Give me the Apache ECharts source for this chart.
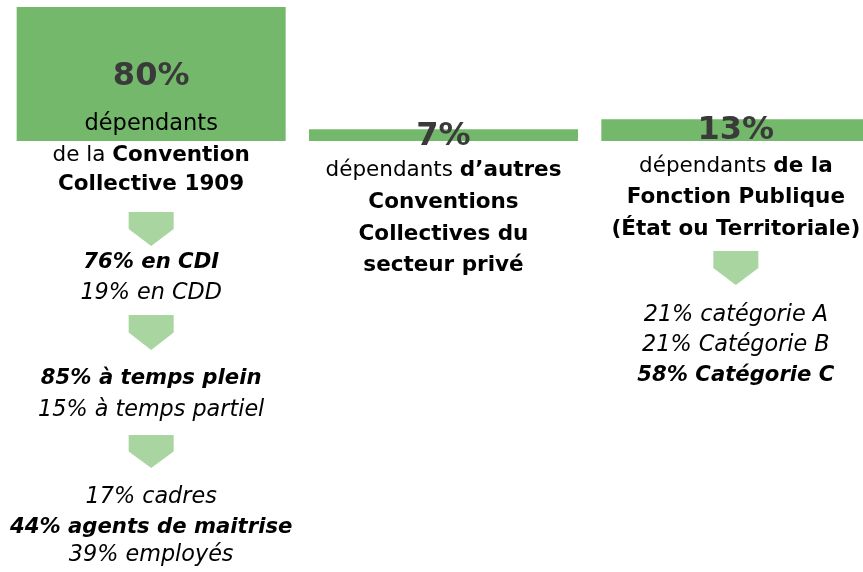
<!DOCTYPE html>
<html>
<head>
<meta charset="utf-8">
<script src="https://cdn.jsdelivr.net/npm/echarts@6/dist/echarts.min.js"></script>
<style>
html,body{margin:0;padding:0;background:#fff;}
#main{width:863px;height:572px;}
</style>
</head>
<body>
<div id="main"></div>
<script>
// ---- data ----
const categories = ['Convention Collective 1909', 'Autres Conventions Collectives du secteur privé', 'Fonction Publique'];
const shares = [80, 7, 13];
const shareLabels = ['80%', '7%', '13%'];

// text blocks under each bar (rich text markup)
const col1Head = ['{r|de la }{b|Convention}', '{b|Collective 1909}'];
const col1Contract = ['{bi|76% en CDI}', '{i|19% en CDD}'];
const col1Time = ['{bi|85% à temps plein}', '{i|15% à temps partiel}'];
const col1Status = ['{i|17% cadres}', '{bi|44% agents de maitrise}', '{i|39% employés}'];
const col2Head = ['{r|dépendants }{b|d’autres}', '{b|Conventions}', '{b|Collectives du}', '{b|secteur privé}'];
const col3Head = ['{r|dépendants }{b|de la}', '{b|Fonction Publique}', '{b|(État ou Territoriale)}'];
const col3Cat = ['{i|21% catégorie A}', '{i|21% Catégorie B}', '{bi|58% Catégorie C}'];

const FONT = '"DejaVu Sans", sans-serif';
const GREEN = '#74b96b';
const LIGHT = '#a8d5a0';

const rich = {
  r:  {fontFamily: FONT, fontSize: 21.5, color: '#2a2a2a', fontWeight: 'normal'},
  b:  {fontFamily: FONT, fontSize: 21.5, color: '#111111', fontWeight: 'bold'},
  i:  {fontFamily: FONT, fontSize: 22.3, color: '#2a2a2a', fontStyle: 'italic'},
  bi: {fontFamily: FONT, fontSize: 21.2, color: '#111111', fontStyle: 'italic', fontWeight: 'bold'},
  big:{fontFamily: FONT, fontSize: 22.5, color: '#222222'}
};

const labelPos = [['50%', 70], ['50%', 7], ['50%', 11]];

const chart = echarts.init(document.getElementById('main'));
chart.setOption({
  animation: false,
  backgroundColor: '#ffffff',
  grid: {left: 5, width: 877, top: 7, bottom: 431, containLabel: false, outerBoundsMode: 'none'},
  xAxis: {type: 'category', data: categories, show: false},
  yAxis: {type: 'value', min: 0, max: 80, show: false},
  series: [{
    type: 'bar',
    barWidth: 269,
    itemStyle: {color: GREEN},
    data: shares.map((v, i) => ({
      value: v,
      label: {
        show: true,
        position: labelPos[i],
        align: 'center',
        verticalAlign: 'middle',
        formatter: shareLabels[i],
        fontFamily: FONT,
        fontSize: 32,
        fontWeight: 'bold',
        color: '#3a3a3a'
      }
    }))
  }]
});

const cx = categories.map(c => chart.convertToPixel({xAxisIndex: 0}, c));

function lines(x, ys, arr) {
  return arr.map((t, k) => ({
    type: 'text', x: x, y: ys[k], silent: true, z: 10,
    style: {text: t, rich: rich, align: 'center', verticalAlign: 'middle'}
  }));
}
function arrow(x, top, h) {
  const w = 22.5;
  return {
    type: 'polygon', x: x, y: top, silent: true, z: 10,
    shape: {points: [[-w, 0], [w, 0], [w, h * 0.5], [0, h], [-w, h * 0.5]]},
    style: {fill: LIGHT}
  };
}

const g = [];
g.push(...lines(cx[0], [124], ['{big|dépendants}']));
g.push(...lines(cx[0], [155, 184], col1Head));
g.push(arrow(cx[0], 212, 34));
g.push(...lines(cx[0], [262, 293], col1Contract));
g.push(arrow(cx[0], 315, 35));
g.push(...lines(cx[0], [378, 410], col1Time));
g.push(arrow(cx[0], 435, 33));
g.push(...lines(cx[0], [497, 527, 555], col1Status));
g.push(...lines(cx[1], [170, 202, 234, 265], col2Head));
g.push(...lines(cx[2], [166, 197, 229], col3Head));
g.push(arrow(cx[2], 251, 34));
g.push(...lines(cx[2], [315, 345, 375], col3Cat));

chart.setOption({graphic: g});
</script>
</body>
</html>
